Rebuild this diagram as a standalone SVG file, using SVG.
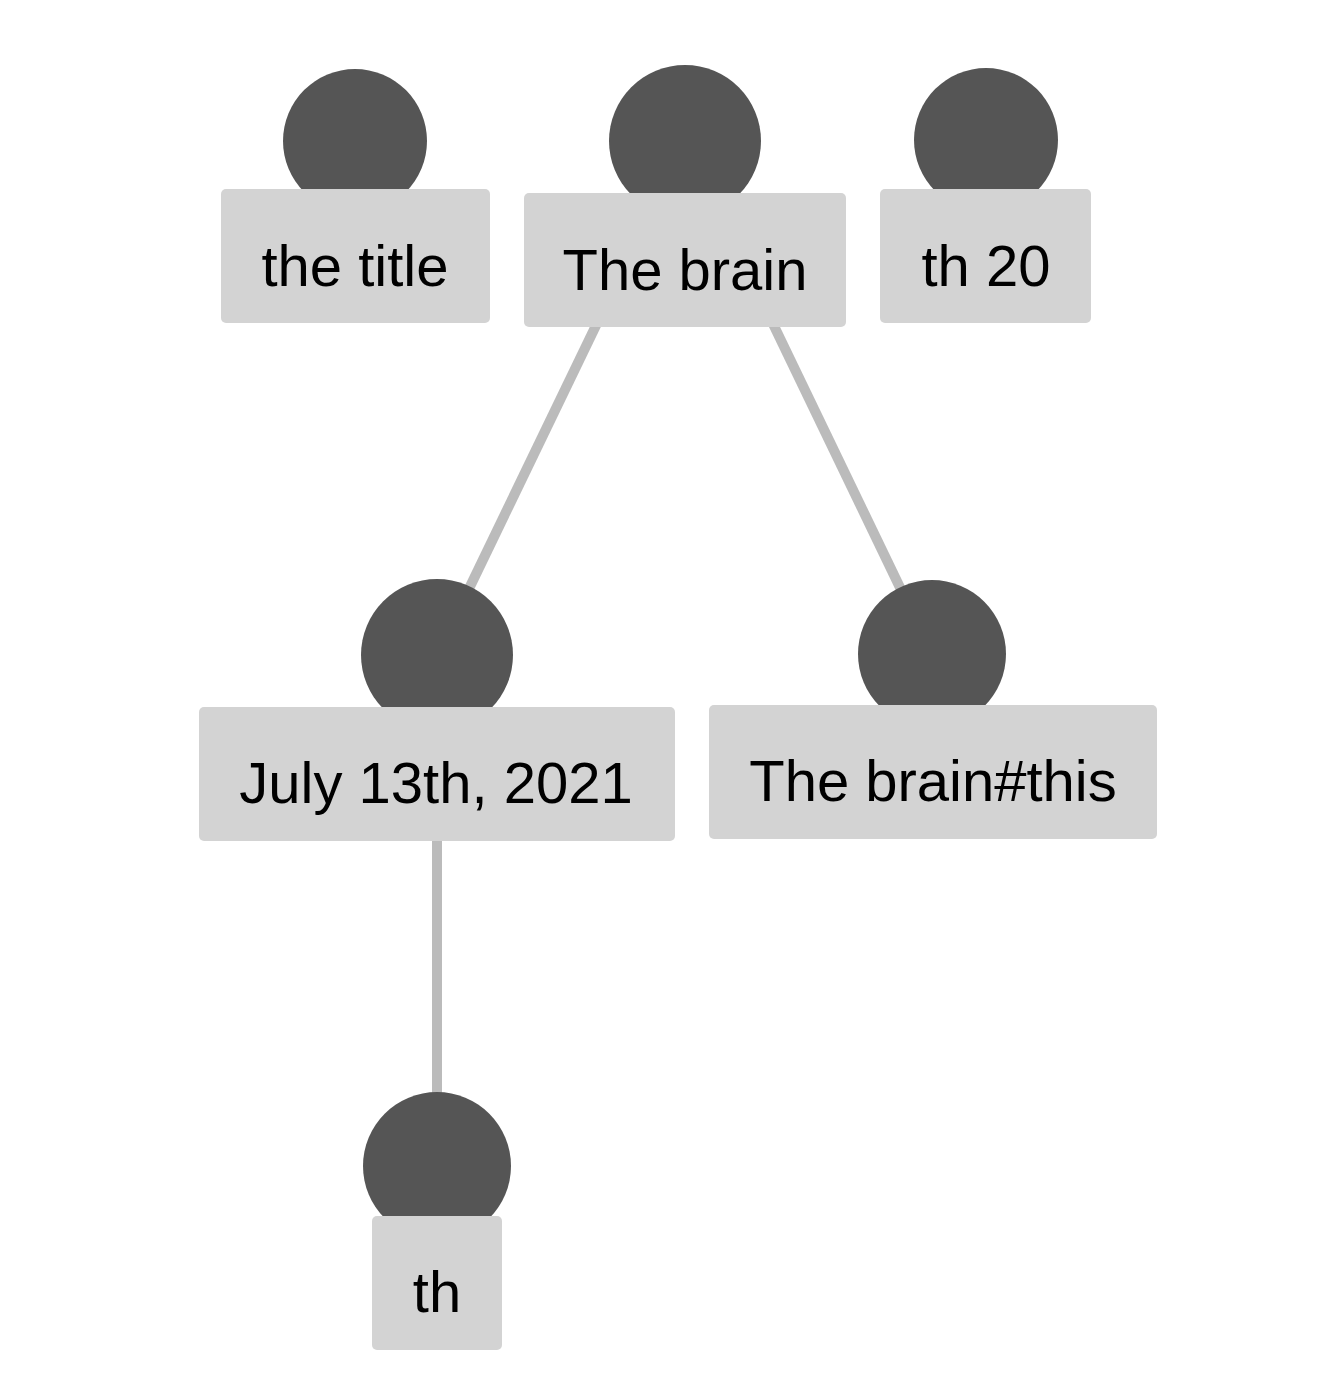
<svg xmlns="http://www.w3.org/2000/svg" width="1326" height="1392" viewBox="0 0 1326 1392">
<style>
.box{fill:#d3d3d3}
.dot{fill:#555555}
.lbl{font-family:"Liberation Sans",Arial,sans-serif;font-size:58px;fill:#000;text-anchor:middle}
.edge{stroke:#bbbbbb;stroke-width:10;fill:none}
</style>
<rect width="1326" height="1392" fill="#ffffff"/>
<g id="connectors">
<line class="edge" x1="685" y1="141" x2="437" y2="655"/>
<line class="edge" x1="685" y1="141" x2="932" y2="654"/>
<line class="edge" x1="437" y1="655" x2="437" y2="1166"/>
</g>
<g id="node-the-title">
<circle class="dot" cx="355" cy="141" r="72"/>
<rect class="box" x="221" y="189" width="269" height="134" rx="5"/>
<text class="lbl" x="355" y="286">the title</text>
</g>
<g id="node-the-brain">
<circle class="dot" cx="685" cy="141" r="76"/>
<rect class="box" x="524" y="193" width="322" height="134" rx="5"/>
<text class="lbl" x="685" y="290">The brain</text>
</g>
<g id="node-th-20">
<circle class="dot" cx="986" cy="140" r="72"/>
<rect class="box" x="880" y="189" width="211" height="134" rx="5"/>
<text class="lbl" x="986" y="286">th 20</text>
</g>
<g id="node-july">
<circle class="dot" cx="437" cy="655" r="76"/>
<rect class="box" x="199" y="707" width="476" height="134" rx="5"/>
<text class="lbl" x="436" y="803">July 13th, 2021</text>
</g>
<g id="node-brain-this">
<circle class="dot" cx="932" cy="654" r="74"/>
<rect class="box" x="709" y="705" width="448" height="134" rx="5"/>
<text class="lbl" x="933" y="801">The brain#this</text>
</g>
<g id="node-th">
<circle class="dot" cx="437" cy="1166" r="74"/>
<rect class="box" x="372" y="1216" width="130" height="134" rx="5"/>
<text class="lbl" x="437" y="1312">th</text>
</g>
</svg>
